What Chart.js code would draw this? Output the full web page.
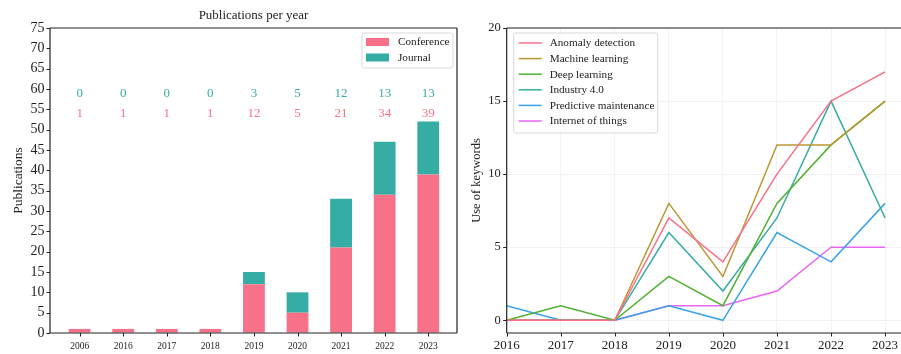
<!DOCTYPE html>
<html>
<head>
<meta charset="utf-8">
<script src="https://cdn.jsdelivr.net/npm/chart.js@4.4.1/dist/chart.umd.min.js"></script>
<style>
  html, body { margin: 0; padding: 0; background: #fff; overflow: hidden; width: 901px; height: 354px; }
  #wrap { position: relative; width: 901px; height: 354px; overflow: hidden; }
  #pubs { position: absolute; left: 0; top: 0; }
  #kw { position: absolute; left: 460px; top: 0; }
</style>
</head>
<body>
<div id="wrap">
  <canvas id="pubs" width="460" height="354"></canvas>
  <canvas id="kw" width="460" height="354"></canvas>
</div>
<script>
// ---- Publications per year ----
const pubYears = ['2006', '2016', '2017', '2018', '2019', '2020', '2021', '2022', '2023'];
const conference = [1, 1, 1, 1, 12, 5, 21, 34, 39];
const journal = [0, 0, 0, 0, 3, 5, 12, 13, 13];

// ---- Keyword usage per year ----
const kwYears = [2016, 2017, 2018, 2019, 2020, 2021, 2022, 2023];
const anomalyDetection = [0, 0, 0, 7, 4, 10, 15, 17];
const machineLearning = [0, 0, 0, 8, 3, 12, 12, 15];
const deepLearning = [0, 1, 0, 3, 1, 8, 12, 15];
const industry40 = [0, 0, 0, 6, 2, 7, 15, 7];
const predictiveMaintenance = [1, 0, 0, 1, 0, 6, 4, 8];
const internetOfThings = [0, 0, 0, 1, 1, 2, 5, 5];

const SERIF = '"Liberation Serif", "DejaVu Serif", serif';
const INK = '#222';
const PINK = '#f77189';
const GOLD = '#bb9832';
const GREEN = '#50b131';
const TEAL = '#36ada4';
const BLUE = '#3ba3ec';
const MAGENTA = '#e866f4';

Chart.defaults.font.family = SERIF;
Chart.defaults.color = INK;

// Spines around the plot area
function spines(sides) {
  return {
    id: 'spines',
    afterDraw(chart) {
      const { ctx, chartArea: a } = chart;
      ctx.save();
      ctx.strokeStyle = INK;
      ctx.lineWidth = 1.2;
      ctx.beginPath();
      if (sides.top) { ctx.moveTo(a.left, a.top); ctx.lineTo(a.right, a.top); }
      if (sides.right) { ctx.moveTo(a.right, a.top); ctx.lineTo(a.right, a.bottom); }
      if (sides.left) { ctx.moveTo(a.left, a.top); ctx.lineTo(a.left, a.bottom); }
      if (sides.bottom) { ctx.moveTo(a.left, a.bottom); ctx.lineTo(a.right, a.bottom); }
      ctx.stroke();
      ctx.restore();
    }
  };
}

// Small outward tick marks on the bottom and left axes
const tickMarks = {
  id: 'tickMarks',
  afterDraw(chart) {
    const { ctx, chartArea: a, scales: { x, y } } = chart;
    ctx.save();
    ctx.strokeStyle = INK;
    ctx.lineWidth = 1;
    ctx.beginPath();
    x.ticks.forEach(t => {
      const px = Math.round(x.getPixelForValue(t.value)) + 0.5;
      ctx.moveTo(px, a.bottom); ctx.lineTo(px, a.bottom + 3.5);
    });
    y.ticks.forEach(t => {
      const py = Math.round(y.getPixelForValue(t.value)) + 0.5;
      ctx.moveTo(a.left, py); ctx.lineTo(a.left - 3.5, py);
    });
    ctx.stroke();
    ctx.restore();
  }
};

function legendBox(ctx, x, y, w, h) {
  ctx.save();
  ctx.fillStyle = 'rgba(255,255,255,0.85)';
  ctx.strokeStyle = '#d9d9d9';
  ctx.lineWidth = 1;
  const r = 2;
  ctx.beginPath();
  ctx.moveTo(x + r, y);
  ctx.lineTo(x + w - r, y);
  ctx.quadraticCurveTo(x + w, y, x + w, y + r);
  ctx.lineTo(x + w, y + h - r);
  ctx.quadraticCurveTo(x + w, y + h, x + w - r, y + h);
  ctx.lineTo(x + r, y + h);
  ctx.quadraticCurveTo(x, y + h, x, y + h - r);
  ctx.lineTo(x, y + r);
  ctx.quadraticCurveTo(x, y, x + r, y);
  ctx.closePath();
  ctx.fill();
  ctx.stroke();
  ctx.restore();
}

// Title, value labels, legend and axis title for the bar chart
const pubsDecor = {
  id: 'pubsDecor',
  afterDraw(chart) {
    const { ctx, chartArea: a, scales: { x, y } } = chart;
    ctx.save();
    ctx.fillStyle = INK;
    ctx.textAlign = 'center';
    ctx.textBaseline = 'middle';
    ctx.font = '13px ' + SERIF;
    ctx.fillText('Publications per year', (a.left + a.right) / 2, 16);

    ctx.save();
    ctx.translate(18, (a.top + a.bottom) / 2);
    ctx.rotate(-Math.PI / 2);
    ctx.font = '13.5px ' + SERIF;
    ctx.fillText('Publications', 0, 0);
    ctx.restore();

    ctx.font = '13px ' + SERIF;
    pubYears.forEach((_, i) => {
      const px = x.getPixelForValue(i);
      ctx.fillStyle = TEAL;
      ctx.fillText(String(journal[i]), px, y.getPixelForValue(58.8));
      ctx.fillStyle = PINK;
      ctx.fillText(String(conference[i]), px, y.getPixelForValue(54));
    });

    // legend
    const sets = chart.data.datasets;
    legendBox(ctx, a.right - 95, a.top + 5, 91, 35);
    ctx.textAlign = 'left';
    ctx.font = '11.2px ' + SERIF;
    sets.forEach((ds, i) => {
      const cy = a.top + 14 + i * 15.5;
      ctx.fillStyle = ds.backgroundColor;
      ctx.fillRect(a.right - 91, cy - 4, 23, 8);
      ctx.fillStyle = INK;
      ctx.fillText(ds.label, a.right - 59, cy + 0.5);
    });
    ctx.restore();
  }
};

// Axis grid config: no lines inside the plot, space reserved for tick marks
const hiddenGrid = { drawOnChartArea: false, drawTicks: true, tickLength: 3.5, color: 'rgba(0,0,0,0)', offset: false };

new Chart(document.getElementById('pubs'), {
  type: 'bar',
  data: {
    datasets: [
      { label: 'Conference', data: conference.map((v, i) => ({ x: i, y: v })), backgroundColor: PINK },
      { label: 'Journal', data: journal.map((v, i) => ({ x: i, y: v })), backgroundColor: TEAL }
    ]
  },
  options: {
    responsive: false,
    animation: false,
    devicePixelRatio: 1,
    layout: { padding: { top: 28, right: 3, left: 0, bottom: 0 } },
    datasets: { bar: { categoryPercentage: 1, barPercentage: 0.5 } },
    plugins: { legend: { display: false }, tooltip: { enabled: false } },
    scales: {
      x: {
        type: 'linear', stacked: true, min: -0.68, max: 8.66, offset: false,
        afterFit: s => { s.height = 21; },
        border: { display: false },
        grid: hiddenGrid,
        ticks: {
          stepSize: 1, includeBounds: false, autoSkip: false, maxRotation: 0,
          padding: 4, font: { size: 9.5 }, color: INK,
          callback: v => pubYears[v] ?? ''
        }
      },
      y: {
        stacked: true, min: 0, max: 75,
        afterFit: s => { s.width = 50; },
        border: { display: false },
        grid: hiddenGrid,
        ticks: { stepSize: 5, autoSkip: false, padding: 2, font: { size: 14 }, color: INK }
      }
    }
  },
  plugins: [spines({ top: true, right: true, left: true, bottom: true }), tickMarks, pubsDecor]
});

// Legend and axis title for the keyword chart
const kwDecor = {
  id: 'kwDecor',
  afterDraw(chart) {
    const { ctx, chartArea: a } = chart;
    ctx.save();
    ctx.fillStyle = INK;
    ctx.textAlign = 'center';
    ctx.textBaseline = 'middle';
    ctx.save();
    ctx.translate(17, (a.top + a.bottom) / 2);
    ctx.rotate(-Math.PI / 2);
    ctx.font = '12.5px ' + SERIF;
    ctx.fillText('Use of keywords', 0, 0);
    ctx.restore();

    const sets = chart.data.datasets;
    legendBox(ctx, a.left + 7, a.top + 5, 144, 100);
    ctx.textAlign = 'left';
    ctx.font = '11.2px ' + SERIF;
    sets.forEach((ds, i) => {
      const cy = a.top + 15 + i * 15.6;
      ctx.strokeStyle = ds.borderColor;
      ctx.lineWidth = 1.5;
      ctx.beginPath();
      ctx.moveTo(a.left + 12, cy);
      ctx.lineTo(a.left + 35, cy);
      ctx.stroke();
      ctx.fillStyle = INK;
      ctx.fillText(ds.label, a.left + 43, cy + 0.5);
    });
    ctx.restore();
  }
};

const series = [
  ['Anomaly detection', anomalyDetection, PINK],
  ['Machine learning', machineLearning, GOLD],
  ['Deep learning', deepLearning, GREEN],
  ['Industry 4.0', industry40, TEAL],
  ['Predictive maintenance', predictiveMaintenance, BLUE],
  ['Internet of things', internetOfThings, MAGENTA]
];

new Chart(document.getElementById('kw'), {
  type: 'line',
  data: {
    datasets: series.map(([label, vals, color]) => ({
      label,
      data: vals.map((v, i) => ({ x: kwYears[i], y: v })),
      borderColor: color,
      backgroundColor: color,
      borderWidth: 1.5,
      pointRadius: 0,
      tension: 0
    }))
  },
  options: {
    responsive: false,
    animation: false,
    devicePixelRatio: 1,
    layout: { padding: { top: 28, right: 16, left: 0, bottom: 0 } },
    plugins: { legend: { display: false }, tooltip: { enabled: false } },
    scales: {
      x: {
        type: 'linear', min: 2016, max: 2023.35,
        afterFit: s => { s.height = 21; },
        border: { display: false },
        grid: { color: '#efefef', lineWidth: 0.8, drawTicks: false },
        ticks: {
          stepSize: 1, includeBounds: false, autoSkip: false, maxRotation: 0,
          padding: 5, font: { size: 13 }, color: INK,
          callback: v => String(v)
        }
      },
      y: {
        min: -0.87, max: 20,
        afterFit: s => { s.width = 46.7; },
        border: { display: false },
        grid: { color: '#efefef', lineWidth: 0.8, drawTicks: false },
        ticks: { stepSize: 5, includeBounds: false, autoSkip: false, padding: 6, font: { size: 12.5 }, color: INK }
      }
    }
  },
  plugins: [spines({ top: true, right: true, left: true, bottom: true }), tickMarks, kwDecor]
});
</script>
</body>
</html>
